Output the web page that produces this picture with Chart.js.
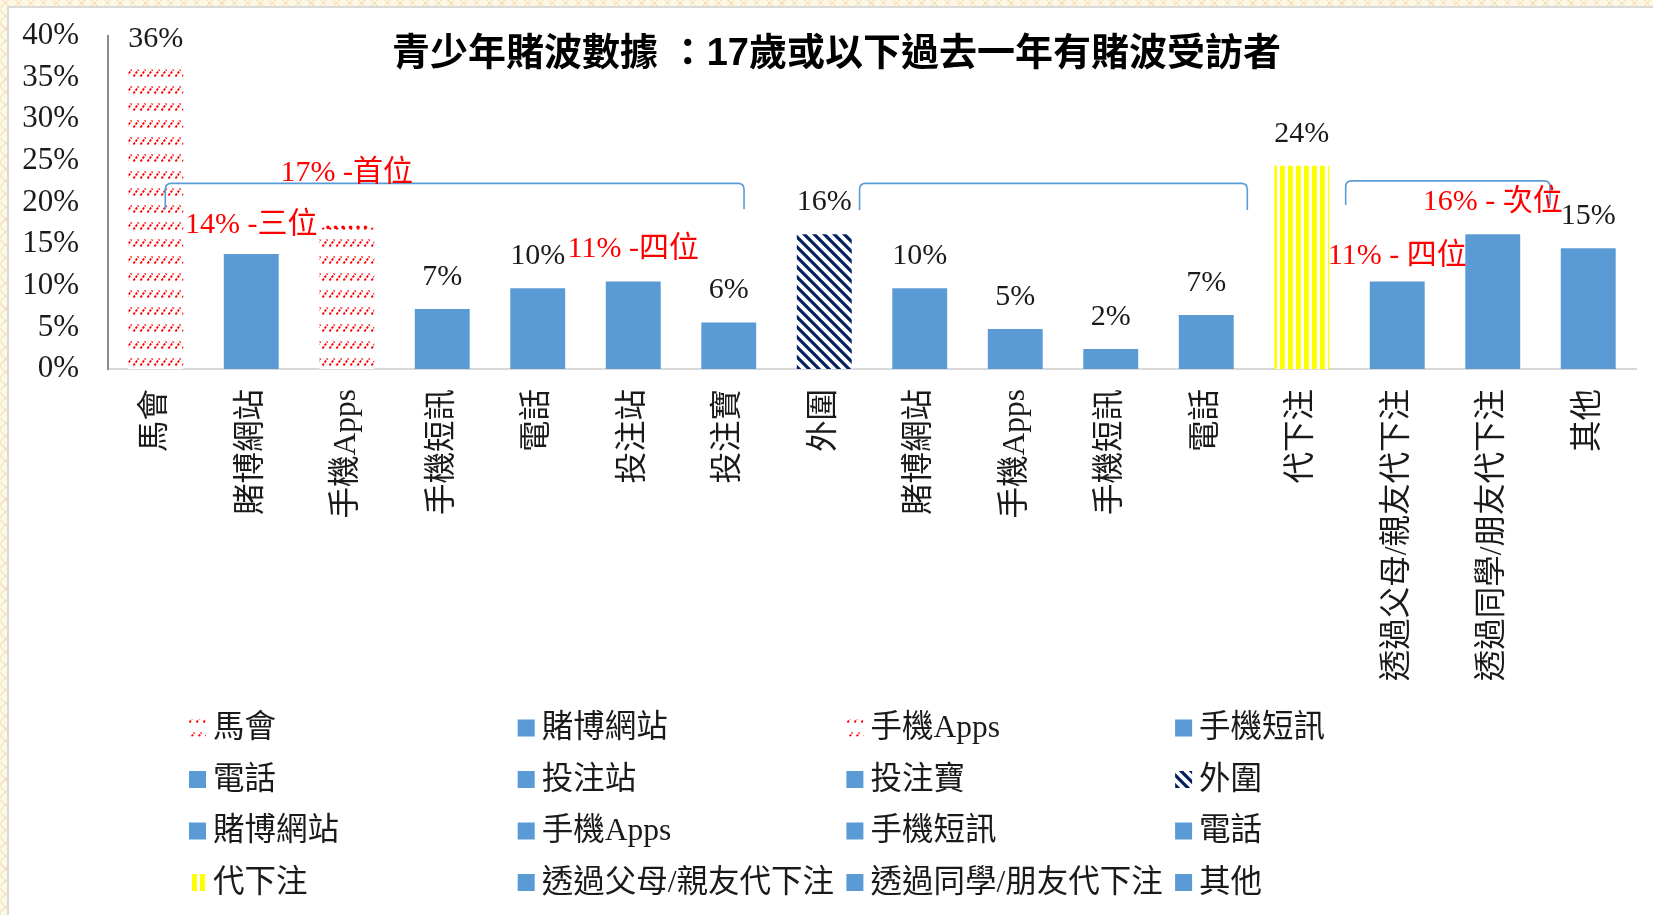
<!DOCTYPE html>
<html>
<head>
<meta charset="utf-8">
<script src="https://cdn.jsdelivr.net/npm/chart.js@4.4.1/dist/chart.umd.min.js"></script>
<style>
html,body{margin:0;padding:0;width:1653px;height:915px;overflow:hidden;}
body{
  background-color:#fdf7e6;
  background-image:
    repeating-linear-gradient(45deg, rgba(238,200,130,.35) 0 1.5px, transparent 1.5px 9px),
    repeating-linear-gradient(-45deg, rgba(238,200,130,.35) 0 1.5px, transparent 1.5px 9px);
}
#panel{position:absolute;left:7px;top:6px;right:-5px;bottom:-5px;background:#fff;border:2px solid #d9d9d9;}
#chart{position:absolute;left:0;top:0;}
</style>
</head>
<body>
<div id="panel"></div>
<canvas id="chart" width="1653" height="915"></canvas>
<script>
// data
const categories = ['馬會','賭博網站','手機Apps','手機短訊','電話','投注站','投注寶','外圍','賭博網站','手機Apps','手機短訊','電話','代下注','透過父母/親友代下注','透過同學/朋友代下注','其他'];
const values = [36, 13.8, 17, 7.2, 9.7, 10.5, 5.6, 16.2, 9.7, 4.8, 2.4, 6.5, 24.4, 10.5, 16.2, 14.5];
const barLabels = ['36%','14% -三位','','7%','10%','11% -四位','6%','16%','10%','5%','2%','7%','24%','11% - 四位','16% - 次位','15%'];
const redLabel = [false,true,false,false,false,true,false,false,false,false,false,false,false,true,true,false];
const fillKind = ['red','blue','red','blue','blue','blue','blue','navy','blue','blue','blue','blue','yellow','blue','blue','blue'];
const yTickLabels = ['0%','5%','10%','15%','20%','25%','30%','35%','40%'];

// annotations (category index / value units)
const noteTexts = ['17% -首位', '......'];
const noteAt = [2, 2];
const noteValue = [22.6, 16.8];
const bracketFrom = [0.1, 7.37, 12.46];
const bracketTo = [6.16, 11.43, 14.6];
const bracketTop = [22.3, 22.3, 22.6];
const bracketFoot = [19.2, 19.1, 19.7];

const title = '青少年賭波數據 ：17歲或以下過去一年有賭波受訪者';

Chart.defaults.font.family = '"Liberation Serif", "Noto Sans CJK TC", serif';

function makePattern(kind){
  const c = document.createElement('canvas');
  const g = c.getContext('2d');
  if(kind === 'red'){
    c.width = 7; c.height = 17;
    g.fillStyle = '#fff'; g.fillRect(0,0,7,17);
    g.strokeStyle = '#ff0000'; g.lineWidth = 1.9; g.setLineDash([2.5,1.2]);
    g.beginPath(); g.moveTo(0.5,8.5); g.lineTo(5.5,1.5); g.stroke();
  } else if(kind === 'navy'){
    c.width = 10; c.height = 10;
    g.fillStyle = '#fff'; g.fillRect(0,0,10,10);
    g.strokeStyle = '#002060'; g.lineWidth = 3.2;
    g.beginPath();
    g.moveTo(-5,-5); g.lineTo(15,15);
    g.moveTo(-5,5); g.lineTo(5,15);
    g.moveTo(5,-5); g.lineTo(15,5);
    g.stroke();
  } else if(kind === 'yellow'){
    c.width = 8; c.height = 8;
    g.fillStyle = '#fff'; g.fillRect(0,0,8,8);
    g.fillStyle = '#ffff00'; g.fillRect(0,0,5,8);
  } else {
    return '#5b9bd5';
  }
  return g.createPattern(c, 'repeat');
}
const fills = {red: makePattern('red'), navy: makePattern('navy'), yellow: makePattern('yellow'), blue: '#5b9bd5'};

// a few labels were dragged a little lower in the original
const labelNudge = {0: 2, 1: 3, 13: 7};

const decor = {
  id: 'decor',
  afterDatasetsDraw(chart){
    const {ctx, scales:{x, y}} = chart;
    const meta = chart.getDatasetMeta(0);
    ctx.save();

    // brackets
    ctx.strokeStyle = '#5b9bd5'; ctx.lineWidth = 1.6;
    bracketFrom.forEach((f,i)=>{
      const x1 = x.getPixelForValue(f), x2 = x.getPixelForValue(bracketTo[i]);
      const yt = y.getPixelForValue(bracketTop[i]), yf = y.getPixelForValue(bracketFoot[i]);
      const r = 6;
      ctx.beginPath();
      ctx.moveTo(x1, yf);
      ctx.lineTo(x1, yt + r);
      ctx.quadraticCurveTo(x1, yt, x1 + r, yt);
      ctx.lineTo(x2 - r, yt);
      ctx.quadraticCurveTo(x2, yt, x2, yt + r);
      ctx.lineTo(x2, yf);
      ctx.stroke();
    });

    // data labels
    ctx.font = '30px "Liberation Serif", "Noto Sans CJK TC"';
    ctx.textAlign = 'center'; ctx.textBaseline = 'middle';
    meta.data.forEach((bar,i)=>{
      if(!barLabels[i]) return;
      ctx.fillStyle = redLabel[i] ? '#ff0000' : '#1a1a1a';
      ctx.fillText(barLabels[i], bar.x, bar.y - 32 + (labelNudge[i] || 0));
    });

    // notes
    ctx.textBaseline = 'alphabetic'; ctx.fillStyle = '#ff0000';
    noteTexts.forEach((t,i)=> ctx.fillText(t, x.getPixelForValue(noteAt[i]), y.getPixelForValue(noteValue[i])));
    ctx.restore();
  },
  afterDraw(chart){
    const ctx = chart.ctx;
    ctx.save();
    // title
    ctx.font = 'bold 38px "Liberation Sans", "Noto Sans CJK TC"';
    ctx.fillStyle = '#000'; ctx.textAlign = 'center'; ctx.textBaseline = 'middle';
    ctx.fillText(title, chart.width/2 + 10, 55);

    // legend, 4 columns
    const left = 189, colW = 328.7, rowTop = 728, rowH = 51.5, box = 17;
    ctx.font = '31.5px "Liberation Serif", "Noto Sans CJK TC"';
    ctx.textAlign = 'left';
    categories.forEach((c,i)=>{
      const lx = left + (i % 4) * colW;
      const ly = rowTop + Math.floor(i / 4) * rowH;
      ctx.fillStyle = fills[fillKind[i]];
      ctx.fillRect(lx, ly - box/2, box, box);
      ctx.fillStyle = '#1a1a1a';
      ctx.fillText(c, lx + 24, ly + 1);
    });
    ctx.restore();
  }
};

new Chart(document.getElementById('chart'), {
  type: 'bar',
  data: {
    labels: categories,
    datasets: [{
      data: values,
      backgroundColor: fillKind.map(k => fills[k]),
      barPercentage: 0.575,
      categoryPercentage: 1
    }]
  },
  options: {
    responsive: false,
    animation: false,
    devicePixelRatio: 1,
    layout: { padding: { top: 36, right: 17, bottom: 230, left: 0 } },
    plugins: { legend: { display: false }, title: { display: false }, tooltip: { enabled: false } },
    scales: {
      x: {
        grid: { display: false, drawTicks: false },
        border: { display: true, color: '#d9d9d9', width: 2 },
        ticks: { autoSkip: false, minRotation: 90, maxRotation: 90, padding: 20, color: '#1a1a1a', font: { size: 31.5 } },
        afterFit(s){ s.height = 316; }
      },
      y: {
        min: 0, max: 40,
        grid: { display: false, drawTicks: false },
        border: { display: true, color: '#8c8c8c', width: 2 },
        ticks: { stepSize: 5, padding: 29, color: '#1a1a1a', font: { size: 31 }, callback: (v, i) => yTickLabels[i] },
        afterFit(s){ s.width = 108; s.paddingTop = 18; s.paddingBottom = 18; }
      }
    }
  },
  plugins: [decor]
});
</script>
</body>
</html>
